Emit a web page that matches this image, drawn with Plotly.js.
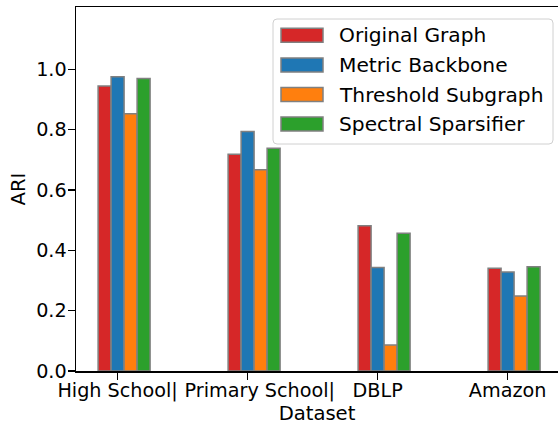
<!DOCTYPE html>
<html>
<head>
<meta charset="utf-8">
<script src="https://cdn.plot.ly/plotly-3.0.1.min.js"></script>
<style>html,body{margin:0;padding:0;background:#fff;}#chart{width:558px;height:425px;}</style>
</head>
<body>
<div id="chart"></div>
<script>
// ---- data ----
const categories = ["High School", "Primary School", "DBLP", "Amazon"];
const tickLabels = ["High School|", "\u00a0\u00a0\u00a0\u00a0Primary School|", "DBLP", "Amazon"];
const seriesNames = ["Original Graph", "Metric Backbone", "Threshold Subgraph", "Spectral Sparsifier"];
const originalGraph = [0.945, 0.719, 0.482, 0.341];
const metricBackbone = [0.976, 0.794, 0.343, 0.328];
const thresholdSubgraph = [0.853, 0.667, 0.086, 0.249];
const spectralSparsifier = [0.970, 0.739, 0.457, 0.346];
const yTicks = [0.0, 0.2, 0.4, 0.6, 0.8, 1.0];

// ---- styling ----
const colors = ["#d62728", "#1f77b4", "#ff7f0e", "#2ca02c"];
const offsets = [-0.15, -0.05, 0.05, 0.15];
const barWidth = 0.1;
const FONT = "DejaVu Sans, sans-serif";
const FS = 19.2;
const LFS = 20.2;

const W = 558, H = 425;
const M = {l: 76, r: 0, t: 7, b: 54};
const plotW = W - M.l - M.r, plotH = H - M.t - M.b;
const px2x = px => (px - M.l) / plotW;
const py2y = py => (H - M.b - py) / plotH;

const allValues = [originalGraph, metricBackbone, thresholdSubgraph, spectralSparsifier];
const xIdx = categories.map((c, i) => i);

const traces = allValues.map((vals, k) => ({
  type: "bar",
  x: xIdx,
  y: vals,
  name: seriesNames[k],
  width: barWidth,
  offset: offsets[k],
  marker: {color: colors[k], line: {color: "#808080", width: 1.5}},
  showlegend: false,
  hoverinfo: "skip"
}));

// custom matplotlib-style legend
const shapes = [];
const annotations = [];
const lx0 = 273, lx1 = 553, ly0 = 19, ly1 = 144, r = 4;
const rx = r / plotW, ry = r / plotH;
const X0 = px2x(lx0), X1 = px2x(lx1), Y0 = py2y(ly0), Y1 = py2y(ly1);
shapes.push({
  type: "path", xref: "paper", yref: "paper",
  path: `M ${X0 + rx},${Y0} L ${X1 - rx},${Y0} Q ${X1},${Y0} ${X1},${Y0 - ry} L ${X1},${Y1 + ry} Q ${X1},${Y1} ${X1 - rx},${Y1} L ${X0 + rx},${Y1} Q ${X0},${Y1} ${X0},${Y1 + ry} L ${X0},${Y0 - ry} Q ${X0},${Y0} ${X0 + rx},${Y0} Z`,
  fillcolor: "rgba(255,255,255,0.8)",
  line: {color: "#d0d0d0", width: 1}
});
const rowY = [35.3, 65.0, 94.5, 123.9];
seriesNames.forEach((name, k) => {
  shapes.push({
    type: "rect", xref: "paper", yref: "paper",
    x0: px2x(281), x1: px2x(323), y0: py2y(rowY[k] - 7), y1: py2y(rowY[k] + 7),
    fillcolor: colors[k], line: {color: "#808080", width: 1.5}
  });
  annotations.push({
    xref: "paper", yref: "paper", x: px2x(337), y: py2y(rowY[k]),
    xanchor: "left", yanchor: "middle", showarrow: false,
    text: name, font: {family: FONT, size: LFS, color: "#000"}
  });
});

const layout = {
  width: W, height: H,
  margin: M,
  paper_bgcolor: "#fff", plot_bgcolor: "#fff",
  barmode: "overlay",
  bargap: 0,
  showlegend: false,
  font: {family: FONT, size: FS, color: "#000"},
  xaxis: {
    range: [-0.32, -0.32 + plotW / 130],
    tickmode: "array", tickvals: xIdx, ticktext: tickLabels,
    tickangle: 0,
    ticks: "outside", ticklen: 7, tickwidth: 1.5, tickcolor: "#000",
    showline: true, linecolor: "#000", linewidth: 1.5, mirror: true,
    showgrid: false, zeroline: false,
    tickfont: {family: FONT, size: FS, color: "#000"},
    ticklabelstandoff: -6,
    title: {text: "Dataset", font: {family: FONT, size: 19.6, color: "#000"}, standoff: 2}
  },
  yaxis: {
    range: [0, 1.207],
    tickmode: "array", tickvals: yTicks, ticktext: yTicks.map(v => v.toFixed(1)),
    ticks: "outside", ticklen: 7, tickwidth: 1.5, tickcolor: "#000",
    showline: true, linecolor: "#000", linewidth: 1.5, mirror: false,
    showgrid: false, zeroline: false,
    tickfont: {family: FONT, size: FS, color: "#000"},
    ticklabelstandoff: -3,
    title: {text: "ARI", font: {family: FONT, size: 19.6, color: "#000"}, standoff: 5}
  },
  shapes: shapes,
  annotations: annotations
};

Plotly.newPlot("chart", traces, layout, {displayModeBar: false, staticPlot: true});
</script>
</body>
</html>
